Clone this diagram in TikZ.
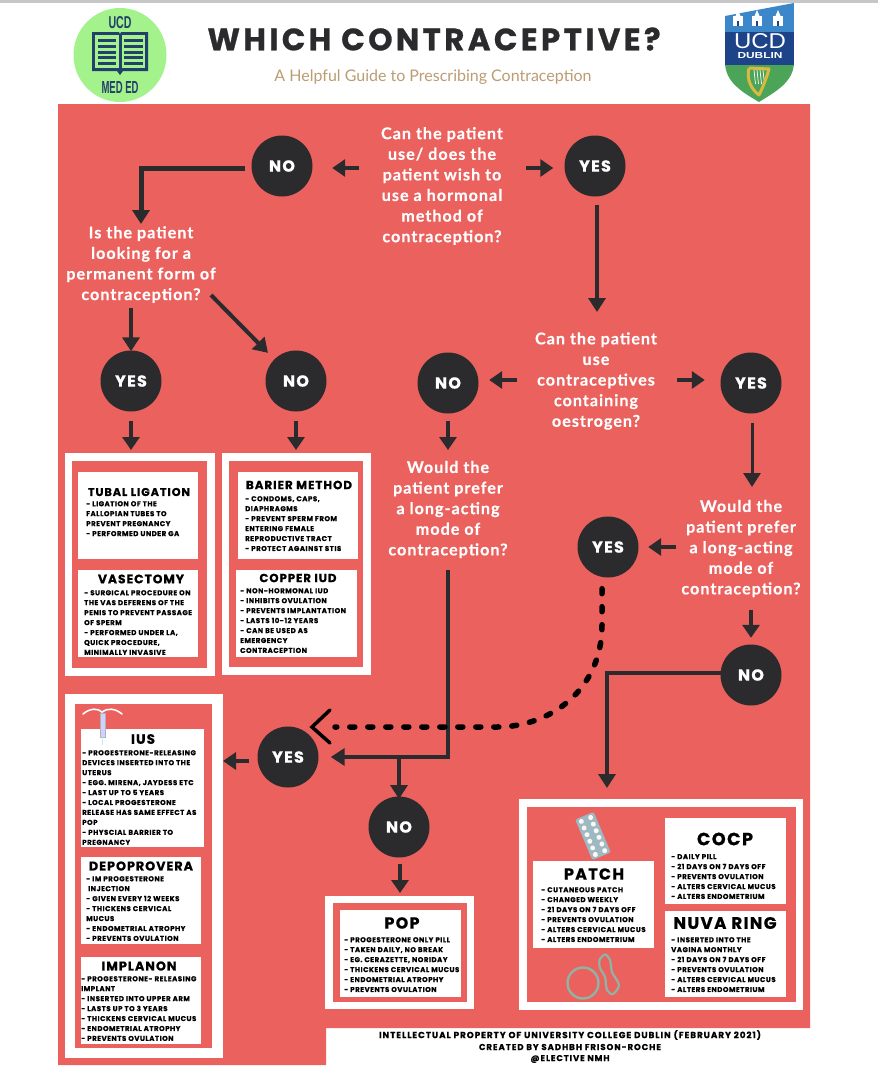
\documentclass[tikz,border=0pt]{standalone}
\usepackage{fontspec}
\usepackage{graphicx}
\usetikzlibrary{arrows.meta}
\newfontfamily\mainf[LetterSpace=11,BoldFont={Poppins Bold},BoldFeatures={FakeBold=0.9}]{Poppins}
\newfontfamily\hdf[LetterSpace=8,BoldFont={Poppins Bold},BoldFeatures={FakeBold=0.7}]{Poppins}
\newfontfamily\bodyf[LetterSpace=7,BoldFont={Poppins Bold},BoldFeatures={FakeBold=0.6}]{Poppins}
\newfontfamily\footf[LetterSpace=11,BoldFont={Poppins Bold},BoldFeatures={FakeBold=0.6}]{Poppins}
\newfontfamily\qf[LetterSpace=6,BoldFont={Lato Bold},BoldFeatures={FakeBold=0.3}]{Lato}
\newfontfamily\logof[BoldFont={Liberation Sans Bold}]{Liberation Sans}
\definecolor{redbg}{HTML}{EB615E}
\definecolor{ink}{HTML}{2B2B2D}
\definecolor{navy}{HTML}{23406B}
\definecolor{mint}{HTML}{A3F28C}
\definecolor{tan}{HTML}{BC9C72}
\definecolor{ringc}{HTML}{8DB5A6}
\definecolor{packc}{HTML}{9DBAC2}
\definecolor{crestsky}{HTML}{3C87C9}
\definecolor{crestnavy}{HTML}{1D4388}
\definecolor{crestgreen}{HTML}{4BA458}
\definecolor{crestgold}{HTML}{D9B93F}
\tikzset{
  redbox/.style={fill=redbg,draw=none},
  whitebox/.style={fill=white,draw=none},
  circ/.style={circle,fill=ink,minimum size=61pt,inner sep=0pt,text=white,font=\hdf\bfseries\fontsize{16}{16}\selectfont},
  qtext/.style={text=white,align=center,inner sep=0pt,yshift=-1pt,font=\qf\bfseries\fontsize{16.2}{20.6}\selectfont},
  ttl/.style={text=black,inner sep=0pt,font=\hdf\bfseries\fontsize{12}{12}\selectfont},
  bodytxt/.style={text=black,anchor=north west,align=left,inner sep=0pt,yshift=-2pt,font=\bodyf\bfseries\fontsize{7.05}{9.95}\selectfont},
  foot/.style={text=black,inner sep=0pt,font=\footf\bfseries\fontsize{8}{8}\selectfont},
  arr/.style={draw=ink,line width=4pt,-{Triangle[length=14pt,width=17pt]}},
  arrs/.style={draw=ink,line width=4pt,-{Triangle[length=13pt,width=17pt]}},
}
\newcommand{\fitw}[2]{\resizebox{#1pt}{!}{#2}}
\begin{document}
\begin{tikzpicture}[x=1pt,y=-1pt]
\useasboundingbox (0,0) rectangle (878,1088);
\fill[white] (0,0) rectangle (878,1088);
\fill[black!22] (0,0) rectangle (878,2.5);
% panel
\fill[redbox] (58,104) -- (810,104) -- (810,1028) -- (326,1028) -- (326,1065) -- (58,1065) -- cycle;

% header
\fill[mint] (120,55) ellipse [x radius=46.5,y radius=47];
\node[inner sep=0pt,text=navy] (logoa) at (120,23) {\resizebox{23pt}{12pt}{\logof\bfseries UCD}};
\node[inner sep=0pt,text=navy] (logob) at (120,87) {\resizebox{37pt}{12pt}{\logof\bfseries MED ED}};
\fill[navy] (92,32) -- (119,32) -- (120,34) -- (121,32) -- (148,32) -- (148,71) -- (123,71) -- (120,75) -- (117,71) -- (92,71) -- cycle;
\fill[mint] (95,35) rectangle (118.5,68);
\fill[mint] (121.5,35) rectangle (145,68);
\foreach \yy in {40,46,52,57.5,63}{
  \fill[navy] (97.5,\yy-1.5) rectangle (116,\yy+1.5);
  \fill[navy] (124,\yy-1.5) rectangle (143,\yy+1.5);
}
\node[inner sep=0pt,text=ink] (title) at (434,39) {\resizebox{453pt}{!}{\mainf\bfseries WHICH CONTRACEPTIVE?}};
\node[inner sep=0pt,text=tan] (subtitle) at (433,77) {\resizebox{317pt}{!}{\fontspec{Lato} A Helpful Guide to Prescribing Contraception}};
% crest
\begin{scope}
\clip (725,16) -- (794,3) -- (794,62) .. controls (794,82) and (775,92) .. (759,102) .. controls (742,92) and (725,82) .. (725,62) -- cycle;
\fill[crestsky] (725,0) rectangle (794,33);
\fill[crestnavy] (725,32) rectangle (794,66);
\fill[crestgreen] (725,65) rectangle (794,104);
\end{scope}
\foreach \cx in {738,757,778}{
  \fill[white] (\cx-5,26) rectangle (\cx+5,16);
  \fill[white] (\cx-2.5,16) -- (\cx,10) -- (\cx+2.5,16) -- cycle;
  \fill[crestnavy] (\cx-1.2,26) rectangle (\cx+1.2,21);
}
\node[inner sep=0pt,text=white] (crestu) at (760,41) {\resizebox{52pt}{15pt}{\logof UCD}};
\node[inner sep=0pt,text=white] (crestd) at (760,55.5) {\resizebox{45pt}{6pt}{\logof\bfseries DUBLIN}};
\foreach \xx in {754,757,760,763}{\draw[white,line width=.7pt] (\xx,70) -- (\xx+1.5,84);}
\draw[draw=crestgold,line width=3pt,line join=round] (749,68) .. controls (746,80) and (752,90) .. (759,95) .. controls (764,85) and (767,76) .. (769,69) -- (749,68);

% result boxes
\fill[whitebox] (65,453) rectangle (215,676);
\fill[redbox] (72,461) rectangle (207,668);
\fill[whitebox] (78,472) rectangle (198,559);
\fill[whitebox] (78,570) rectangle (198,657);
\fill[whitebox] (222,453) rectangle (371,675);
\fill[redbox] (229,461) rectangle (363,667);
\fill[whitebox] (238,472) rectangle (358,559);
\fill[whitebox] (236,570) rectangle (357,657);
\fill[whitebox] (65,694) rectangle (223,1058);
\fill[redbox] (75,704) rectangle (212,1048);
\fill[whitebox] (81,729) rectangle (204,847);
\fill[whitebox] (81,857) rectangle (201,944);
\fill[whitebox] (81,957) rectangle (201,1044);
\fill[whitebox] (325,896) rectangle (474,1009);
\fill[redbox] (333,903) rectangle (467,1002);
\fill[whitebox] (340,910) rectangle (461,997);
\fill[whitebox] (519,799) rectangle (803,1010);
\fill[redbox] (527,807) rectangle (796,1002);
\fill[whitebox] (665,818) rectangle (786,904);
\fill[whitebox] (665,911) rectangle (786,997);
\fill[whitebox] (533,861) rectangle (654,948);

% icons
\draw[white,line width=1.6pt,line cap=round] (83,714) .. controls (90,708) and (98,708) .. (102,712) .. controls (107,708) and (115,708) .. (122,714);
\draw[black!30,line width=.4pt,fill=blue!18!white] (100,713) rectangle (105,737);
\draw[cyan!25!white,line width=1pt] (102.5,737) -- (102.5,745);
\begin{scope}[shift={(593,836)},rotate=23]
  \fill[packc,rounded corners=2pt] (-10,-22) rectangle (10,22);
  \foreach \py in {-18,-10.8,-3.6,3.6,10.8,18}{
    \fill[white!85!pink] (-5,\py) circle (2.5);
    \fill[white!85!pink] (5,\py) circle (2.5);
  }
\end{scope}
\draw[ringc,line width=2.4pt] (583,983) circle (15.5);
\draw[ringc,line width=2.2pt] plot[smooth cycle] coordinates {(599.5,960) (605,954.5) (610,960) (612,972) (619,985) (613,994) (607,990) (605,977) (600,968)};

% questions
\node[qtext] (q1) at (442,185) {Can the patient\\use/ does the\\patient wish to\\use a hormonal\\method of\\contraception?};
\node[qtext] (q2) at (141,263.5) {Is the patient\\looking for a\\permanent form of\\contraception?};
\node[qtext] (q3) at (596,380) {Can the patient\\use\\contraceptives\\containing\\oestrogen?};
\node[qtext] (q4) at (448,508.5) {Would the\\patient prefer\\a long-acting\\mode of\\contraception?};
\node[qtext] (q5) at (741,547.5) {Would the\\patient prefer\\a long-acting\\mode of\\contraception?};

% decision circles
\node[circ] (no1) at (282,166) {NO};
\node[circ] (yes1) at (595,166) {YES};
\node[circ] (yes2) at (131,381) {YES};
\node[circ] (no2) at (296,381) {NO};
\node[circ] (no3) at (448,383) {NO};
\node[circ] (yes3) at (751,383) {YES};
\node[circ] (yes4) at (608,547) {YES};
\node[circ] (no4) at (751,675) {NO};
\node[circ] (yes5) at (288,757) {YES};
\node[circ] (no5) at (399,827) {NO};

% free connector ends
\coordinate (q1l) at (359,168);
\coordinate (q1r) at (526,168);
\coordinate (q1nob) at (141,168);
\coordinate (q2t) at (141,224);
\coordinate (y1b) at (597,312);
\coordinate (q2a) at (131,308);
\coordinate (q2b) at (211,295);
\coordinate (q3l) at (517,380);
\coordinate (q3r) at (677,380);
\coordinate (q4t) at (448,450);
\coordinate (y2b) at (131,450);
\coordinate (n2b) at (296,450);
\coordinate (q5t) at (752,487);
\coordinate (q5l) at (676,547);
\coordinate (q5b) at (751,610);
\coordinate (rc) at (607,673);
\coordinate (rb) at (607,788);
\coordinate (q4b) at (448,570);
\coordinate (jn) at (448,757);
\coordinate (br) at (399,757);
\coordinate (n5t) at (399,799);
\coordinate (popt) at (400,893);
\coordinate (iusb) at (223,761);
\coordinate (dsh) at (335,727);
\coordinate (chev) at (312,727);
\coordinate (cheva) at (330,710);
\coordinate (chevb) at (330,743);
\coordinate (dstr) at (602,625);
\coordinate (dcur) at (497,727);

% connectors
\draw[arrs] (q1l) -- ([xshift=19.5pt]no1.east |- q1l) ;
\draw[arrs] (q1r) -- ([xshift=-11pt]yes1.west |- q1r);
\draw[arr,line width=5pt] ([xshift=-6pt]no1.west |- q1nob) -- (q1nob) -- (q2t);
\draw[arr] ([yshift=-8pt]yes1.south -| y1b) -- (y1b);
\draw[arr] (q2a) -- ([yshift=-1pt]yes2.north);
\draw[arr,shorten >=9pt] (q2b) -- (no2.north west);
\draw[arrs] (yes2.south) ++(0,9) -- (y2b);
\draw[arrs] (no2.south) ++(0,9) -- (n2b);
\draw[arrs] (q3l) -- ([xshift=10.5pt]no3.east |- q3l);
\draw[arrs] (q3r) -- ([xshift=-15.5pt]yes3.west |- q3r);
\draw[arrs] (no3.south) ++(0,7) -- (q4t);
\draw[arr,line width=3pt] (yes3.south) ++(1,9) -- (q5t);
\draw[arrs] (q5l) -- ([xshift=9.5pt]yes4.east);
\draw[arrs] (q5b) -- ([yshift=6.5pt]no4.north);
\draw[arr] ([xshift=1pt]no4.west |- rc) -- (rc) -- (rb);
\draw[arr] (q4b) -- (jn) -- ([xshift=12pt]yes5.east |- jn);
\draw[arr] (br) -- (n5t);
\draw[arrs] (no5.south) ++(1,6) -- (popt);
\draw[arrs] ([xshift=-8pt]yes5.west |- iusb) -- (iusb);
\draw[black,line width=5.5pt,line cap=round,dash pattern=on 5pt off 13pt] ([xshift=-6pt,yshift=-11pt]yes4.south) -- (dstr) .. controls (602,690) and (550,727) .. (dcur) -- (dsh);
\draw[black,line width=3.5pt,line cap=round,line join=miter] (cheva) -- (chev) -- (chevb);

% titles and text
\node[ttl] (t1) at (139,492) {\fitw{102}{TUBAL LIGATION}};
\node[bodytxt] (b1) at (86,499) {- LIGATION OF THE\\FALLOPIAN TUBES TO\\PREVENT PREGNANCY\\- PERFORMED UNDER GA};
\node[ttl] (t2) at (141,579) {\fitw{86}{VASECTOMY}};
\node[bodytxt] (b2) at (84,588) {- SURGICAL PROCEDURE ON\\THE VAS DEFERENS OF THE\\PENIS TO PREVENT PASSAGE\\OF SPERM\\- PERFORMED UNDER LA,\\QUICK PROCEDURE,\\MINIMALLY INVASIVE};
\node[ttl] (t3) at (299,485) {\fitw{106}{BARIER METHOD}};
\node[bodytxt] (b3) at (245,494) {- CONDOMS, CAPS,\\DIAPHRAGMS\\- PREVENT SPERM FROM\\ENTERING FEMALE\\REPRODUCTIVE TRACT\\- PROTECT AGAINST STIS};
\node[ttl] (t4) at (298,578) {\fitw{77}{COPPER IUD}};
\node[bodytxt] (b4) at (240,586) {- NON-HORMONAL IUD\\- INHIBITS OVULATION\\- PREVENTS IMPLANTATION\\- LASTS 10-12 YEARS\\- CAN BE USED AS\\EMERGENCY\\CONTRACEPTION};
\node[ttl] (t5) at (143,739) {\fitw{24}{IUS}};
\node[bodytxt] (b5) at (82,748) {- PROGESTERONE-RELEASING\\DEVICES INSERTED INTO THE\\UTERUS\\- EGG. MIRENA, JAYDESS ETC\\- LAST UP TO 5 YEARS\\- LOCAL PROGESTERONE\\RELEASE HAS SAME EFFECT AS\\POP\\- PHYSCIAL BARRIER TO\\PREGNANCY};
\node[ttl] (t6) at (141,866) {\fitw{104}{DEPOPROVERA}};
\node[bodytxt] (b6) at (86,874) {- IM PROGESTERONE\\\hspace*{2pt}INJECTION\\- GIVEN EVERY 12 WEEKS\\- THICKENS CERVICAL\\MUCUS\\- ENDOMETRIAL ATROPHY\\- PREVENTS OVULATION};
\node[ttl] (t7) at (139,966) {\fitw{75}{IMPLANON}};
\node[bodytxt] (b7) at (81,974) {- PROGESTERONE- RELEASING\\IMPLANT\\- INSERTED INTO UPPER ARM\\- LASTS UP TO 3 YEARS\\- THICKENS CERVICAL MUCUS\\- ENDOMETRIAL ATROPHY\\- PREVENTS OVULATION};
\node[ttl] (t8) at (402,923) {\fitw{35}{POP}};
\node[bodytxt] (b8) at (344,935) {- PROGESTERONE ONLY PILL\\- TAKEN DAILY, NO BREAK\\- EG. CERAZETTE, NORIDAY\\- THICKENS CERVICAL MUCUS\\- ENDOMETRIAL ATROPHY\\- PREVENTS OVULATION};
\node[ttl] (t9) at (594,874) {\fitw{60}{PATCH}};
\node[bodytxt] (b9) at (541,885) {- CUTANEOUS PATCH\\- CHANGED WEEKLY\\- 21 DAYS ON 7 DAYS OFF\\- PREVENTS OVULATION\\- ALTERS CERVICAL MUCUS\\- ALTERS ENDOMETRIUM};
\node[ttl] (t10) at (725,839) {\fitw{56}{COCP}};
\node[bodytxt] (b10) at (671,852) {- DAILY PILL\\- 21 DAYS ON 7 DAYS OFF\\- PREVENTS OVULATION\\- ALTERS CERVICAL MUCUS\\- ALTERS ENDOMETRIUM};
\node[ttl] (t11) at (725,923) {\fitw{103}{NUVA RING}};
\node[bodytxt] (b11) at (671,935) {- INSERTED INTO THE\\VAGINA MONTHLY\\- 21 DAYS ON 7 DAYS OFF\\- PREVENTS OVULATION\\- ALTERS CERVICAL MUCUS\\- ALTERS ENDOMETRIUM};
\node[foot] (f1) at (570,1035) {\fitw{382}{INTELLECTUAL PROPERTY OF UNIVERSITY COLLEGE DUBLIN (FEBRUARY 2021)}};
\node[foot] (f2) at (570,1047) {\fitw{182}{CREATED BY SADHBH FRISON-ROCHE}};
\node[foot] (f3) at (570,1059) {\fitw{79}{@ELECTIVE NMH}};
\end{tikzpicture}
\end{document}
